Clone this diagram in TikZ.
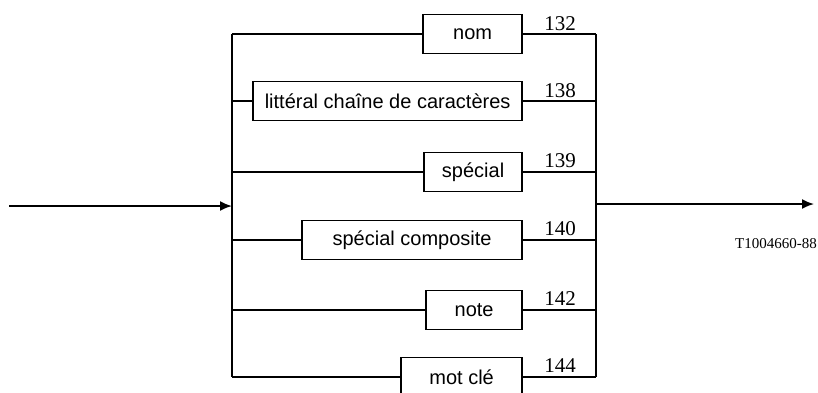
\documentclass[tikz,border=0pt]{standalone}
\usepackage{fontspec}
\setmainfont{Liberation Serif}
\setsansfont{Liberation Sans}
\usetikzlibrary{arrows.meta, positioning}

\begin{document}
\begin{tikzpicture}[x=0.5pt,y=-0.5pt,line width=0.9pt,
    box/.style={draw,anchor=east,minimum height=19.5pt,inner sep=2pt,font=\sffamily\fontsize{10}{12}\selectfont},
    num/.style={anchor=base,inner sep=0pt,font=\fontsize{10.5}{12}\selectfont},
    tip/.style={-{Latex[length=6pt,width=5pt]}}]
            \useasboundingbox (0,0) rectangle (818,392);
            % bus lines
            \coordinate (lt) at (232,34);
            \coordinate (lb) at (232,377);
            \coordinate (rt) at (596,34);
            \coordinate (rb) at (596,377);
            \coordinate (in) at (9,206);
            \coordinate (join) at (232,206);
            \coordinate (split) at (596,204);
            \coordinate (out) at (814,204);
            \draw (lt) -- (lb);
            \draw (rt) -- (rb);
            \draw[tip] (in) -- (join);
            \draw[tip] (split) -- (out);
            % alternatives
            \coordinate (l1) at (232,34);
            \coordinate (r1) at (596,34);
            \node[box,minimum width=49.5pt](nom) at (523,34) {nom};
            \node[num](n132) at (560,30) {132};
            \draw (l1) -- (nom) -- (r1);
            \coordinate (l2) at (232,101);
            \coordinate (r2) at (596,101);
            \node[box,minimum width=134.5pt](litt) at (523,101) {littéral chaîne de caractères};
            \node[num](n138) at (560,97) {138};
            \draw (l2) -- (litt) -- (r2);
            \coordinate (l3) at (232,172);
            \coordinate (r3) at (596,172);
            \node[box,minimum width=49pt](spec) at (523,172) {spécial};
            \node[num](n139) at (560,167) {139};
            \draw (l3) -- (spec) -- (r3);
            \coordinate (l4) at (232,240);
            \coordinate (r4) at (596,240);
            \node[box,minimum width=110pt](comp) at (523,240) {spécial composite};
            \node[num](n140) at (560,235) {140};
            \draw (l4) -- (comp) -- (r4);
            \coordinate (l5) at (232,310);
            \coordinate (r5) at (596,310);
            \node[box,minimum width=48pt](note) at (523,310) {note};
            \node[num](n142) at (560,305) {142};
            \draw (l5) -- (note) -- (r5);
            \coordinate (l6) at (232,377);
            \coordinate (r6) at (596,377);
            \node[box,minimum width=60.5pt](mot) at (523,377) {mot clé};
            \node[num](n144) at (560,372) {144};
            \draw (l6) -- (mot) -- (r6);
            \node[font=\fontsize{7.5}{9}\selectfont](ref) at (776,244) {T1004660-88};
        \end{tikzpicture}
\end{document}
